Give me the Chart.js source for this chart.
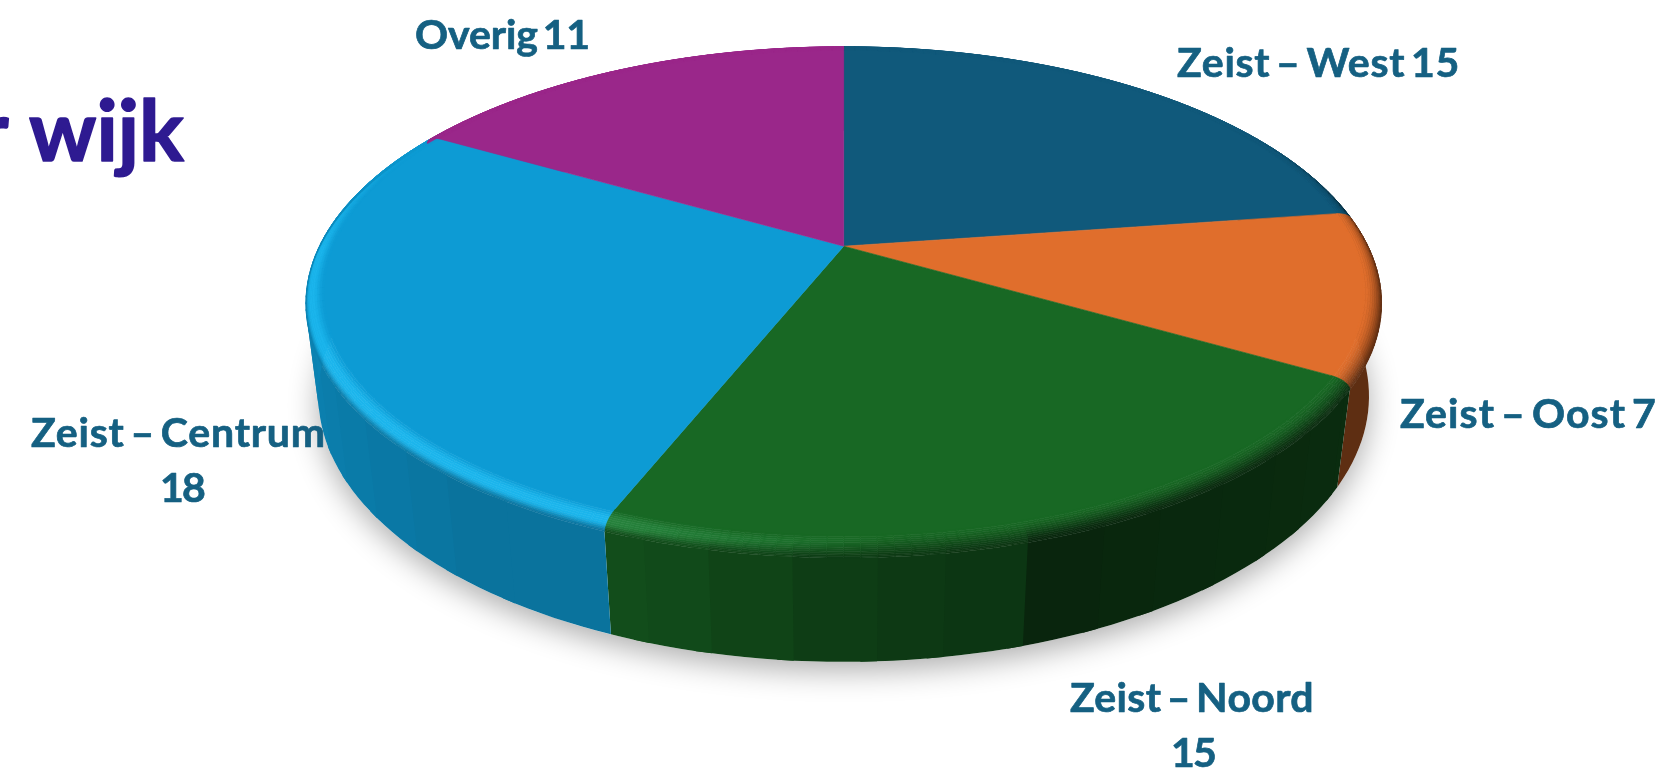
<!DOCTYPE html>
<html><head><meta charset="utf-8">
<style>html,body{margin:0;padding:0;background:#fff;overflow:hidden}
canvas{display:block;filter:blur(0.6px)}</style>
<script src="https://cdn.jsdelivr.net/npm/chart.js@4"></script>
</head><body><canvas id="c" width="1664" height="770"></canvas>
<script>
const categories = ["Zeist – West","Zeist – Oost","Zeist – Noord","Zeist – Centrum","Overig"];
const values = [15,7,15,18,11];
const sliceColors = ["#10597b","#e06e2c","#186824","#0d9bd4","#9a278a"];
const titleText = "r wijk";

const labelLayout = [
  [[0,1177,1460,77,"both"]],
  [[1,1400,1657,428,"both"]],
  [[2,1070,1314,712,"name"],[2,1171,1215,767,"value"]],
  [[3,31,326,447,"name"],[3,160,204,502,"value"]],
  [[4,415,590,49,"both"]]
];
const P = {cx:843.7,cy:246.2,A:528.6,B:243,p:0.195,D:102,q:0.025};
function proj(a,r,h){
  const u=r*Math.cos(a),v=r*Math.sin(a),w=1-P.p*v+P.q*h;
  return [P.cx+P.A*u/w,P.cy+(P.B*v+P.D*h)/w];
}
function rgb(hex){return [1,3,5].map(i=>parseInt(hex.substr(i,2),16));}
function mix(c,d,t){return c.map((x,i)=>x+(d[i]-x)*t);}
function css(c){return "rgb("+c.map(x=>Math.round(Math.min(255,x))).join(",")+")";}
const sideStops=[[-90,.45],[-20,.42],[30,.42],[70,.36],[77,.52],[88,.56],[108,.74],[125,.74],[150,.80],[185,.87],[270,.87]];
function sideF(a){
  let d=a*180/Math.PI; while(d<-90)d+=360; while(d>=270)d-=360;
  d=Math.round(d/7)*7;
  for(let i=1;i<sideStops.length;i++){
    if(d<=sideStops[i][0]){const s=sideStops[i-1],e=sideStops[i];
      return s[1]+(e[1]-s[1])*(d-s[0])/(e[0]-s[0]);}
  }
  return .87;
}
function hlAmt(a){
  const s=Math.sin(a),c=Math.cos(a);
  if(c>0.08) return 0;
  return Math.min(1,(0.08-c)/0.43)*Math.max(0,Math.min(1,(s+0.5)/0.5));
}
function smooth(x){x=Math.max(0,Math.min(1,x));return x*x*(3-2*x);}
function quad(ctx,p,col,w){
  ctx.fillStyle=col;ctx.strokeStyle=col;ctx.lineWidth=w===undefined?0.6:w;
  ctx.beginPath();ctx.moveTo(p[0][0],p[0][1]);for(let i=1;i<p.length;i++)ctx.lineTo(p[i][0],p[i][1]);
  ctx.closePath();ctx.fill();if(ctx.lineWidth&&w!==0)ctx.stroke();
}
const R0=0.965,HB=0.085;
const pie3d={
  id:"pie3d",
  beforeDatasetDraw(chart,args){
    const ctx=chart.ctx,arcs=chart.getDatasetMeta(args.index).data;
    const step=Math.PI/180*1.5;
    ctx.save();
    ctx.shadowColor="rgba(0,0,0,0.32)";ctx.shadowBlur=30;ctx.shadowOffsetY=9;ctx.fillStyle="#fff";
    ctx.beginPath();
    for(let a=0;a<Math.PI*2;a+=step){const q=proj(a,1,1);a?ctx.lineTo(q[0],q[1]):ctx.moveTo(q[0],q[1]);}
    ctx.closePath();ctx.fill();ctx.restore();
    arcs.forEach((arc,i)=>{
      const base=rgb(sliceColors[i]);
      const bands=[];
      let cur=null;
      for(let a=arc.startAngle;a<arc.endAngle-1e-6;a+=step){
        const b=Math.min(a+step,arc.endAngle),m=(a+b)/2,f=sideF(m);
        if(!cur||cur.f!==f){cur={f,a0:a,a1:b,col:css(base.map(x=>x*f))};bands.push(cur);}
        else cur.a1=b;
      }
      // each band runs a little under its neighbour so no seam shows between them
      bands.forEach((bd,n)=>{
        const end=n<bands.length-1?bd.a1+step:bd.a1;
        const up=[],down=[];
        for(let a=bd.a0;a<end;a+=step){up.push(proj(a,1,HB));down.unshift(proj(a,1,1));}
        up.push(proj(end,1,HB));down.unshift(proj(end,1,1));
        quad(ctx,up.concat(down),bd.col,0);
      });
    });
    arcs.forEach((arc,i)=>{
      const pts=[proj(0,0,0)];
      for(let a=arc.startAngle;a<arc.endAngle;a+=step)pts.push(proj(a,R0+.002,0));
      pts.push(proj(arc.endAngle,R0+.002,0));
      quad(ctx,pts,sliceColors[i]);
    });
    const N=12, glow=[14,26,24];
    const prof=(s)=>[1-(1-R0)*(1-Math.sin(s*Math.PI/2)),HB*(1-Math.cos(s*Math.PI/2))];
    arcs.forEach((arc,i)=>{
      const base=rgb(sliceColors[i]);
      for(let a=arc.startAngle;a<arc.endAngle-1e-6;a+=step){
        const b=Math.min(a+step,arc.endAngle),m=(a+b)/2;
        const amount=Math.max(0,Math.min(1,(Math.sin(m)+0.55)/0.45));
        const side=mix(base,base.map(x=>x*sideF(m)),amount);
        const k=hlAmt(m),hi=base.map((x,j)=>x+glow[j]*k);
        const s=0.05+0.5*k;
        for(let n=0;n<N;n++){
          const t0=n/N,t1=(n+1)/N,t=(t0+t1)/2;
          const lit=mix(base,hi,smooth(t/.4));
          const col=mix(lit,side,smooth((t-s)/(1-s)));
          const [r0,h0]=prof(t0),[r1,h1]=prof(t1);
          quad(ctx,[proj(a,r0,h0),proj(b,r0,h0),proj(b,r1,h1),proj(a,r1,h1)],css(col));
        }
      }
    });
    return false;
  },
  afterDraw(chart){
    const ctx=chart.ctx;
    ctx.save();
    ctx.textBaseline="alphabetic";ctx.textAlign="left";ctx.lineJoin="round";
    ctx.fillStyle=ctx.strokeStyle="#156082";
    ctx.font="bold 41px Lato";
    ctx.wordSpacing="-5px";
    ctx.lineWidth=0.7;
    labelLayout.forEach(lines=>lines.forEach(([i,l,r,y,kind])=>{
      const s=kind==="both"?categories[i]+" "+values[i]:kind==="name"?categories[i]:String(values[i]);
      ctx.letterSpacing="0px";
      const extra=(r-l-ctx.measureText(s).width)/s.length;
      ctx.letterSpacing=extra.toFixed(2)+"px";
      ctx.fillText(s,l,y);ctx.strokeText(s,l,y);
    }));
    ctx.letterSpacing="0px";
    ctx.wordSpacing="0px";
    ctx.fillStyle=ctx.strokeStyle="#2e1a91";
    ctx.font="bold 84px Lato";
    ctx.textAlign="right";
    ctx.lineWidth=1.6;
    ctx.fillText(titleText,184,161);ctx.strokeText(titleText,184,161);
    ctx.restore();
  }
};
new Chart(document.getElementById("c"),{
  type:"pie",
  data:{labels:categories,datasets:[{data:values,backgroundColor:sliceColors,borderWidth:0}]},
  options:{responsive:false,animation:false,plugins:{legend:{display:false},tooltip:{enabled:false}}},
  plugins:[pie3d]
});
</script></body></html>
